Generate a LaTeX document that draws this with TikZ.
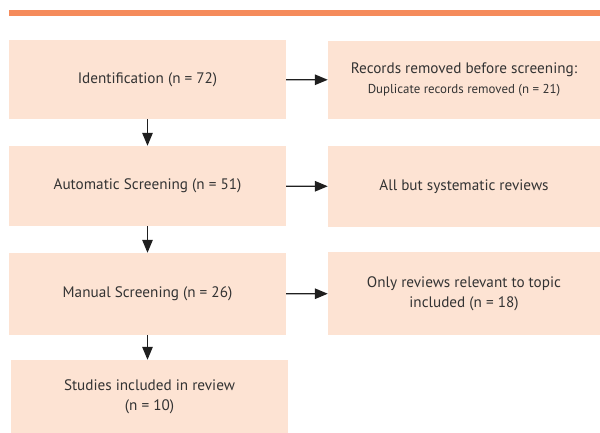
\documentclass[tikz,border=0pt]{standalone}
\usepackage{fontspec}
\setmainfont{PT Sans}
\usetikzlibrary{arrows.meta}
\definecolor{boxfill}{HTML}{FDE3D3}
\definecolor{barorange}{HTML}{F58B5B}
\definecolor{inktext}{HTML}{333333}

\begin{document}
\begin{tikzpicture}[x=1pt,y=-1pt,
  box/.style={fill=boxfill,text=inktext,align=center,inner sep=0pt,minimum width=277pt,font=\fontsize{15.2}{20}\selectfont},
  sidebox/.style={box,minimum width=272pt},
  flow/.style={draw=black!88,line width=1.3pt,-{Triangle[length=13pt,width=10.5pt]}}]
\useasboundingbox (0,0) rectangle (600,433);
\draw[barorange,line width=5.5pt](9,13) -- (600,13);
\node[box,minimum height=79pt](idf) at (147.5,79.5){Identification (n = 72)};
\node[box,minimum height=80pt](auto) at (147.5,186){Automatic Screening (n = 51)};
\node[box,minimum height=82pt](manual) at (147.5,294){Manual Screening (n = 26)};
\node[box,minimum height=73pt](incl) at (149.5,396.5){Studies included in review\\(n = 10)};
\node[sidebox,minimum height=78pt](dup) at (464,80){Records removed before screening:\\{\fontsize{12.9}{16}\selectfont Duplicate records removed (n = 21)}};
\node[sidebox,minimum height=81pt](sysrev) at (464,186.5){All but systematic reviews};
\node[sidebox,minimum height=83pt](topic) at (464,293.5){Only reviews relevant to topic\\included (n = 18)};
\draw[flow](idf) -- (dup);
\draw[flow](auto) -- (sysrev);
\draw[flow](manual) -- (topic);
\draw[flow](idf) -- (auto);
\draw[flow](auto) -- (manual);
\draw[flow](manual.south) -- (manual.south |- incl.north);
\end{tikzpicture}
\end{document}
